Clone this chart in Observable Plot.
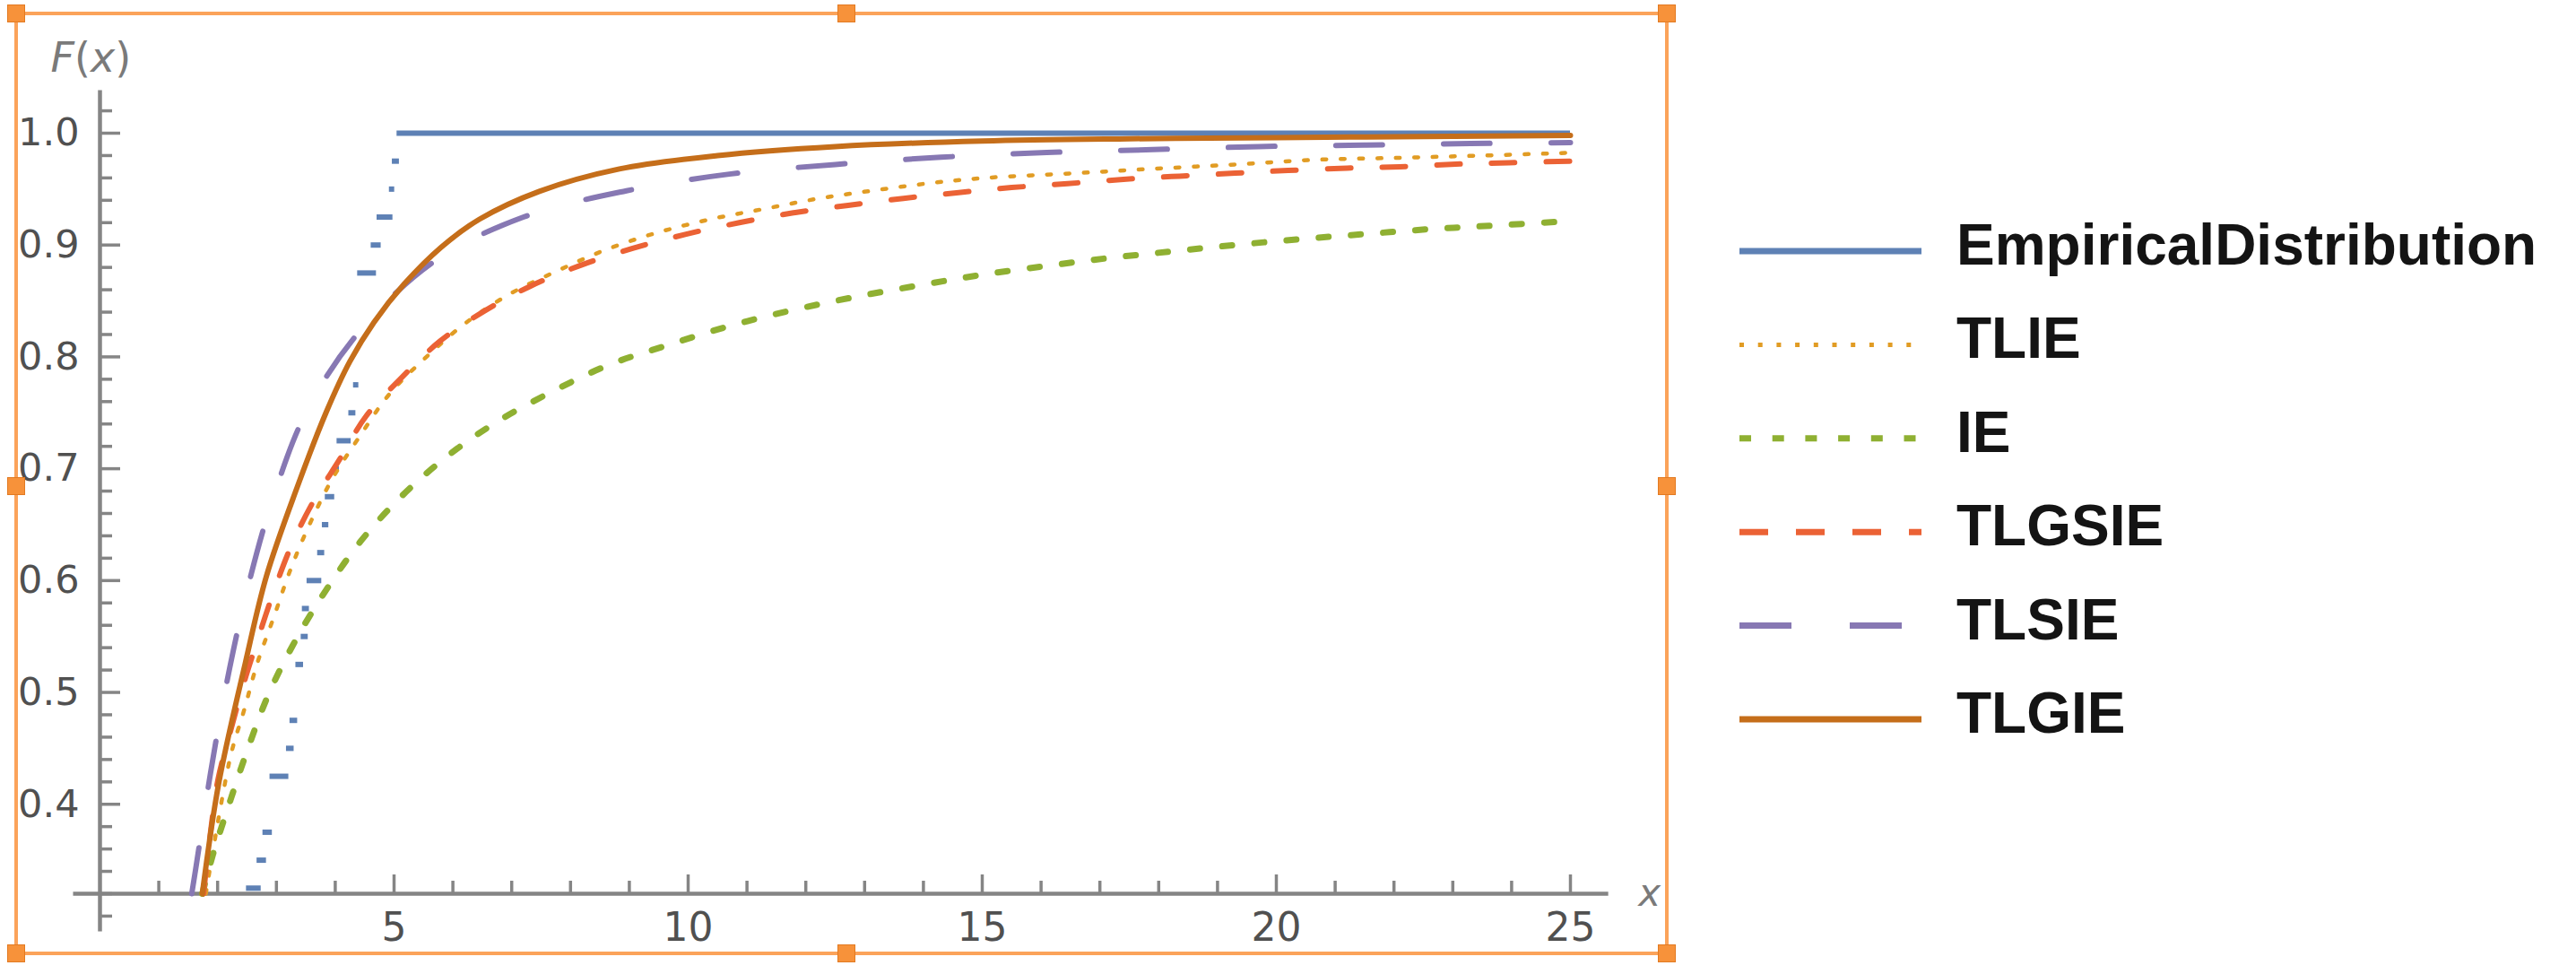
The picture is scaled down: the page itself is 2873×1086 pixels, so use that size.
<!DOCTYPE html>
<html>
<head>
<meta charset="utf-8">
<script src="https://cdn.jsdelivr.net/npm/d3@7"></script>
<script src="https://cdn.jsdelivr.net/npm/@observablehq/plot@0.6"></script>
<style>
  html, body { margin: 0; padding: 0; background: #fff; }
  #page { position: relative; width: 2873px; height: 1086px; overflow: hidden; background: #fff; }
  #page > svg.plot { position: absolute; left: 0; top: 0; }
  #frame { position: absolute; left: 16px; top: 13px; width: 1837px; height: 1044px; border: 4px solid #FBA35A; pointer-events: none; }
  .handle { position: absolute; width: 20px; height: 20px; background: #F7923A; border: 1px solid #E27A22; box-sizing: border-box; }
</style>
</head>
<body>
<div id="page"></div>
<script>
// ---------------- data ----------------
const seriesNames = ["EmpiricalDistribution", "TLIE", "IE", "TLGSIE", "TLSIE", "TLGIE"];

// Empirical CDF: visible horizontal step pieces
const empLevel = [0.325, 0.35, 0.375, 0.425, 0.45, 0.475, 0.525, 0.55, 0.575, 0.6, 0.625, 0.65, 0.675, 0.7, 0.725, 0.75, 0.775, 0.875, 0.9, 0.925, 0.95, 0.975, 1.0];
const empX1 = [2.49, 2.67, 2.77, 2.89, 3.17, 3.23, 3.33, 3.42, 3.44, 3.52, 3.70, 3.78, 3.83, 3.97, 4.03, 4.23, 4.31, 4.38, 4.61, 4.71, 4.92, 4.97, 5.05];
const empX2 = [2.74, 2.83, 2.93, 3.21, 3.30, 3.36, 3.46, 3.54, 3.56, 3.77, 3.82, 3.89, 3.99, 4.07, 4.27, 4.35, 4.40, 4.70, 4.78, 4.98, 5.01, 5.09, 25];

const tlieX = [1.80, 2.22, 2.45, 2.68, 2.96, 3.24, 3.57, 3.95, 4.41, 4.91, 5.53, 6.21, 6.96, 7.78, 8.59, 9.47, 10.4, 11.31, 12.23, 13.18, 14.14, 15.05, 16.5, 17.85, 19.3, 20.7, 22.1, 23.5, 25];
const tlieY = [0.32, 0.443, 0.484, 0.527, 0.568, 0.610, 0.651, 0.691, 0.7285, 0.766, 0.799, 0.830, 0.856, 0.877, 0.8956, 0.911, 0.9233, 0.9325, 0.9417, 0.949, 0.9555, 0.960, 0.964, 0.968, 0.972, 0.9763, 0.978, 0.980, 0.9825];

const ieX = [1.74, 1.92, 2.22, 2.53, 2.88, 3.34, 3.85, 4.43, 5.12, 5.90, 6.75, 7.69, 8.66, 9.68, 10.73, 11.79, 12.84, 13.93, 14.98, 16.1, 17.19, 18.28, 19.37, 20.46, 21.55, 22.64, 23.72, 25];
const ieY = [0.32, 0.355, 0.404, 0.452, 0.500, 0.548, 0.592, 0.635, 0.675, 0.711, 0.742, 0.769, 0.793, 0.811, 0.828, 0.842, 0.8536, 0.864, 0.8733, 0.8814, 0.8886, 0.8946, 0.9004, 0.9055, 0.910, 0.9143, 0.9175, 0.9215];

const tlgsieX = [1.76, 1.88, 2.01, 2.22, 2.43, 2.68, 2.96, 3.26, 3.62, 4.07, 4.53, 5.12, 5.78, 6.52, 7.33, 8.18, 9.07, 9.95, 10.87, 11.79, 12.72, 13.66, 14.6, 15.5, 16.45, 17.4, 18.35, 19.3, 20.2, 21.2, 22.1, 23.05, 23.95, 25];
const tlgsieY = [0.32, 0.375, 0.423, 0.4655, 0.5055, 0.547, 0.591, 0.632, 0.670, 0.708, 0.7474, 0.781, 0.814, 0.8405, 0.8635, 0.882, 0.8972, 0.9095, 0.920, 0.9288, 0.9355, 0.9417, 0.9469, 0.9514, 0.9549, 0.9587, 0.9616, 0.9643, 0.9667, 0.9688, 0.970, 0.9723, 0.9736, 0.975];

const tlsieX = [1.56, 1.63, 1.88, 2.16, 2.5, 2.95, 3.52, 4.4, 5.7, 7.2, 8.95, 10.7, 12.5, 14.3, 16.1, 17.9, 19.7, 21.5, 23.3, 25];
const tlsieY = [0.32, 0.343, 0.428, 0.51, 0.591, 0.675, 0.752, 0.822, 0.886, 0.925, 0.9485, 0.9634, 0.972, 0.9785, 0.9827, 0.9853, 0.988, 0.9893, 0.9907, 0.9915];

const tlgieX = [1.74, 2.02, 2.47, 2.83, 3.35, 3.85, 4.25, 4.66, 5.17, 5.8, 6.45, 7.47, 8.83, 10.5, 12.5, 15, 17.5, 20, 22.5, 25];
const tlgieY = [0.32, 0.419, 0.526, 0.604, 0.683, 0.751, 0.796, 0.831, 0.865, 0.898, 0.923, 0.948, 0.968, 0.980, 0.988, 0.993, 0.995, 0.996, 0.997, 0.998];

const xMajorTicks = [5, 10, 15, 20, 25];
const xTickLabels = ["5", "10", "15", "20", "25"];
const xMinorTicks = [1, 2, 3, 4, 6, 7, 8, 9, 11, 12, 13, 14, 16, 17, 18, 19, 21, 22, 23, 24];
const yMajorTicks = [0.4, 0.5, 0.6, 0.7, 0.8, 0.9, 1.0];
const yTickLabels = ["0.4", "0.5", "0.6", "0.7", "0.8", "0.9", "1.0"];
const yMinorTicks = [0.30, 0.32, 0.34, 0.36, 0.38, 0.42, 0.44, 0.46, 0.48, 0.52, 0.54, 0.56, 0.58, 0.62, 0.64, 0.66, 0.68, 0.72, 0.74, 0.76, 0.78, 0.82, 0.84, 0.86, 0.88, 0.92, 0.94, 0.96, 0.98, 1.02];

// ---------------- styles ----------------
const colors = { EmpiricalDistribution: "#5E81B5", TLIE: "#E19C24", IE: "#8FB032", TLGSIE: "#EB6235", TLSIE: "#8778B3", TLGIE: "#C56E1A" };
const plotDash = { EmpiricalDistribution: null, TLIE: "4.5 16", IE: "11 25", TLGSIE: "26 35", TLSIE: "52 68", TLGIE: null };
const plotWidth = { EmpiricalDistribution: 6, TLIE: 4.5, IE: 7, TLGSIE: 6, TLSIE: 6, TLGIE: 6 };
const legendDash = { EmpiricalDistribution: null, TLIE: "5 15.7", IE: "13 23.7", TLGSIE: "32 31", TLSIE: "58 65", TLGIE: null };
const legendWidth = { EmpiricalDistribution: 7, TLIE: 5, IE: 7, TLGSIE: 7, TLSIE: 7, TLGIE: 7 };

const axisColor = "#858585";
const W = 1870, H = 1086, mL = 111, mR = 119, mT = 148, mB = 90;
const xDomain = [0, 25], yDomain = [0.32, 1.0];
const pxX = (xDomain[1] - xDomain[0]) / (W - mL - mR);
const pxY = (yDomain[1] - yDomain[0]) / (H - mT - mB);

const rows = (xs, ys) => xs.map((x, i) => ({ x, y: ys[i] }));
const empRows = empLevel.map((l, i) => ({ level: l, x1: empX1[i], x2: empX2[i] }));

const curves = [
  ["TLIE", tlieX, tlieY],
  ["IE", ieX, ieY],
  ["TLGSIE", tlgsieX, tlgsieY],
  ["TLSIE", tlsieX, tlsieY],
  ["TLGIE", tlgieX, tlgieY]
];

const plot = Plot.plot({
  width: W, height: H,
  marginLeft: mL, marginRight: mR, marginTop: mT, marginBottom: mB,
  x: { domain: xDomain, axis: null },
  y: { domain: yDomain, axis: null },
  style: { background: "transparent", overflow: "visible", fontFamily: "DejaVu Sans" },
  marks: [
    // axes lines
    Plot.ruleY([yDomain[0]], { x1: -0.45, x2: 25.65, stroke: axisColor, strokeWidth: 4.5 }),
    Plot.ruleX([0], { y1: 0.286, y2: 1.038, stroke: axisColor, strokeWidth: 4.5 }),
    // ticks
    Plot.ruleY(yMajorTicks, { x1: 0, x2: 23 * pxX, stroke: axisColor, strokeWidth: 3.5 }),
    Plot.ruleY(yMinorTicks, { x1: 0, x2: 14 * pxX, stroke: axisColor, strokeWidth: 3.5 }),
    Plot.ruleX(xMajorTicks, { y1: yDomain[0], y2: yDomain[0] + 21 * pxY, stroke: axisColor, strokeWidth: 3.5 }),
    Plot.ruleX(xMinorTicks, { y1: yDomain[0], y2: yDomain[0] + 14 * pxY, stroke: axisColor, strokeWidth: 3.5 }),
    // tick labels
    Plot.text(yMajorTicks, { x: 0, y: d => d, text: (d, i) => yTickLabels[i], textAnchor: "end", dx: -23, fontSize: 43, fill: "#505050" }),
    Plot.text(xMajorTicks, { x: d => d, y: yDomain[0], text: (d, i) => xTickLabels[i], dy: 38, fontSize: 44, fill: "#505050" }),
    // axis labels
    Plot.text(["x"], { x: 25.65, y: yDomain[0], text: d => d, textAnchor: "start", dx: 33, fontSize: 42, fontStyle: "italic", fill: "#7a7a7a" }),
    Plot.text(["F(x)"], { frameAnchor: "top-left", text: d => d, textAnchor: "start", dx: -55, dy: -101, fontSize: 46, fill: "#7a7a7a" }),
    // empirical distribution
    Plot.ruleY(empRows, { y: "level", x1: "x1", x2: "x2", stroke: colors.EmpiricalDistribution, strokeWidth: plotWidth.EmpiricalDistribution }),
    // fitted curves
    ...curves.map(([name, xs, ys]) => Plot.line(rows(xs, ys), {
      x: "x", y: "y", curve: "catmull-rom",
      stroke: colors[name], strokeWidth: plotWidth[name],
      strokeDasharray: plotDash[name] || undefined
    }))
  ]
});
document.getElementById("page").appendChild(plot);

// italic F and x, upright parentheses
plot.querySelectorAll("text").forEach(t => {
  if (t.textContent === "F(x)") {
    t.textContent = "";
    [["F", true], ["(", false], ["x", true], [")", false]].forEach(([s, it]) => {
      const ts = document.createElementNS("http://www.w3.org/2000/svg", "tspan");
      ts.textContent = s;
      if (it) ts.setAttribute("font-style", "italic");
      t.appendChild(ts);
    });
  }
});

// ---------------- legend ----------------
const lg = d3.select("#page").append("svg")
  .attr("width", 953).attr("height", H)
  .style("position", "absolute").style("left", "1920px").style("top", "0px");
const lgTop = 280, lgStep = 104.4, lgX1 = 20, lgX2 = 223, lgTextX = 262;
seriesNames.forEach((name, i) => {
  const y = lgTop + i * lgStep;
  lg.append("line")
    .attr("x1", lgX1).attr("x2", lgX2).attr("y1", y).attr("y2", y)
    .attr("stroke", colors[name]).attr("stroke-width", legendWidth[name])
    .attr("stroke-dasharray", legendDash[name]);
  lg.append("text")
    .attr("x", lgTextX).attr("y", y + 15)
    .attr("font-family", "'Liberation Sans', Arial, sans-serif")
    .attr("font-weight", "bold").attr("font-size", 64)
    .attr("fill", "#141414")
    .text(name);
});

// ---------------- selection frame ----------------
const page = document.getElementById("page");
const frame = document.createElement("div");
frame.id = "frame";
page.appendChild(frame);
[[18, 15], [944, 15], [1859, 15], [18, 542], [1859, 542], [18, 1063], [944, 1063], [1859, 1063]].forEach(([cx, cy]) => {
  const h = document.createElement("div");
  h.className = "handle";
  h.style.left = (cx - 10) + "px";
  h.style.top = (cy - 10) + "px";
  page.appendChild(h);
});
</script>
</body>
</html>
